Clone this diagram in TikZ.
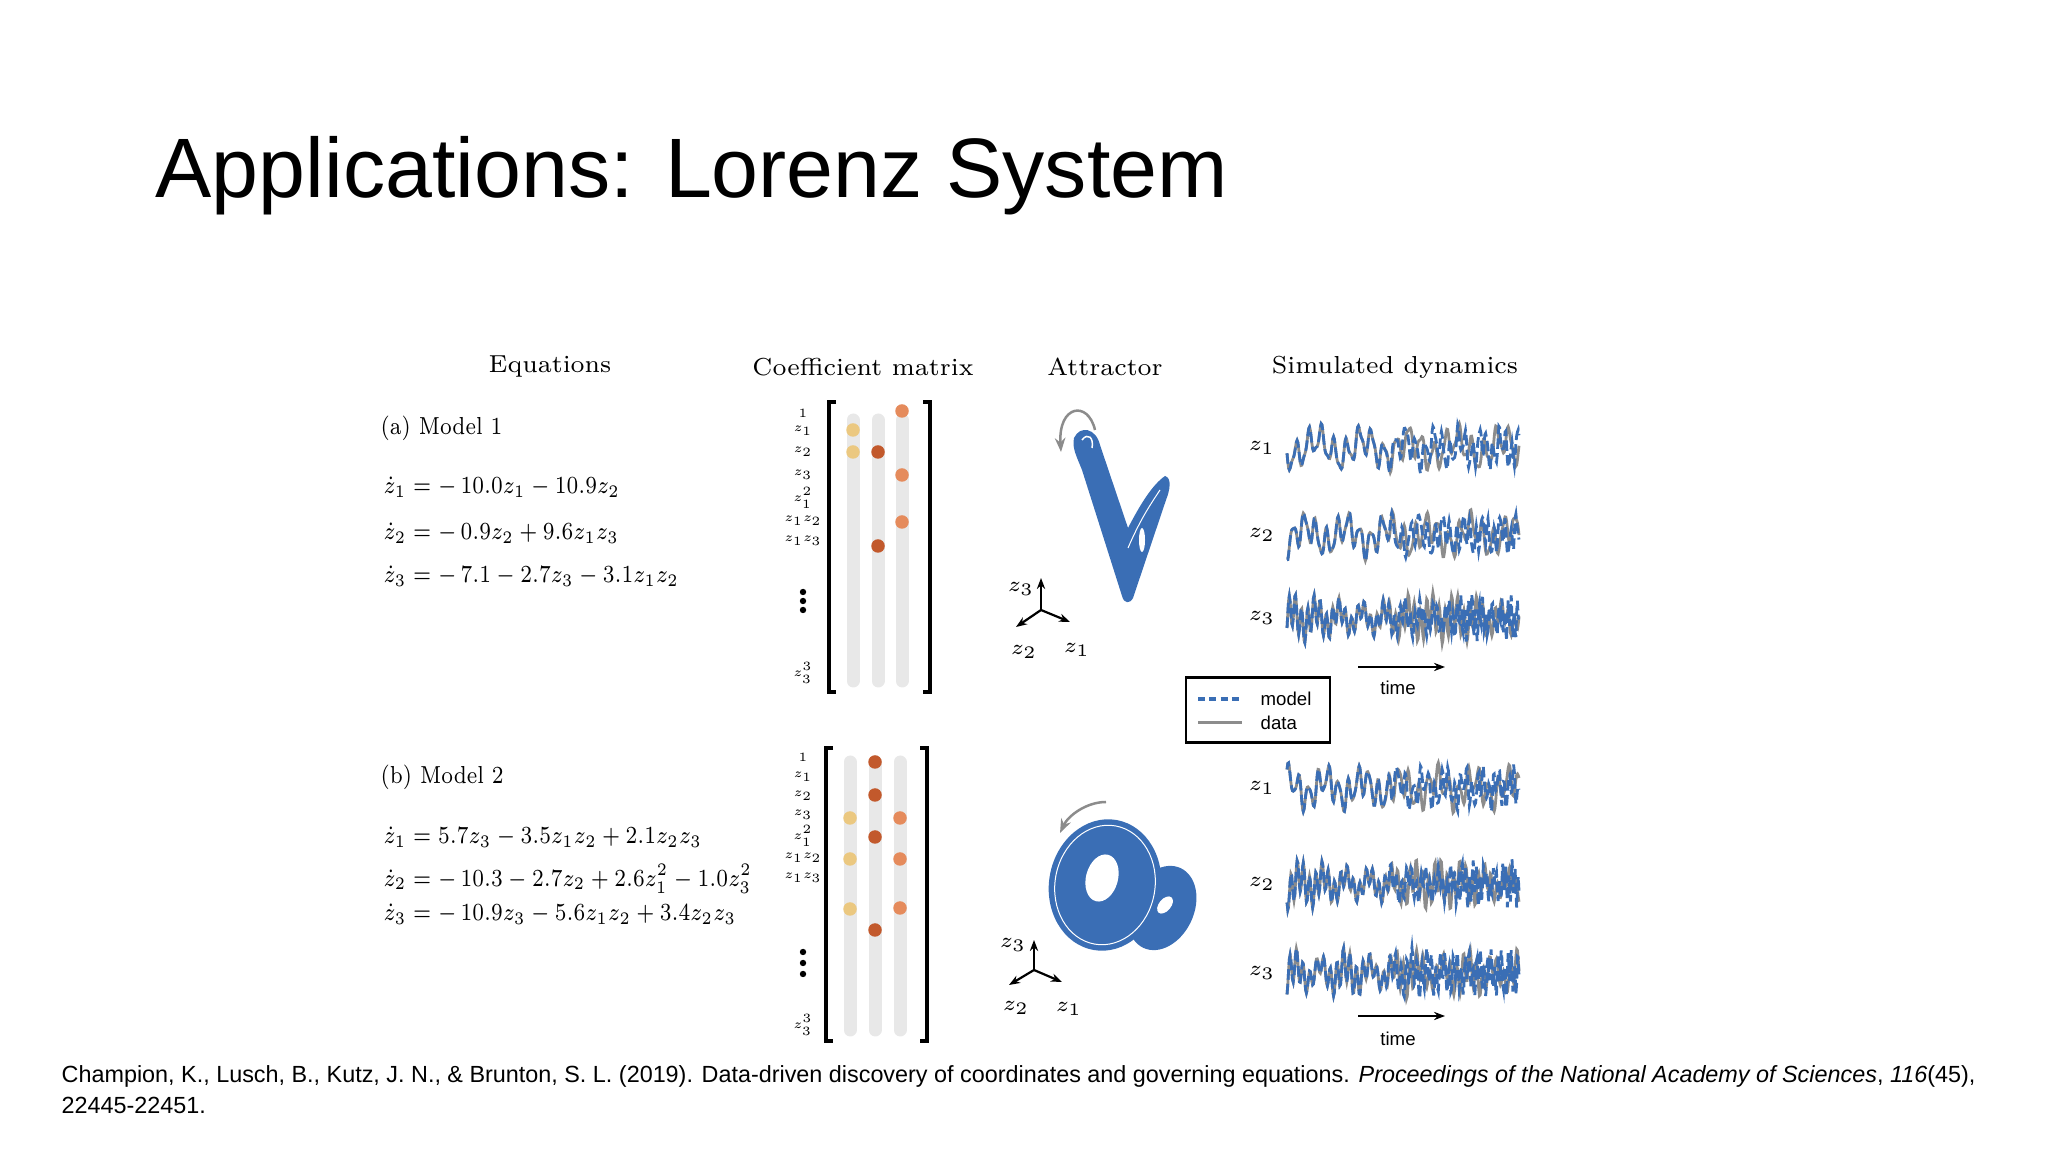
\documentclass[tikz,border=0pt]{standalone}
\usepackage{graphicx}
\usepackage{fontspec}
\newfontfamily\sans{Liberation Sans}
\usetikzlibrary{arrows.meta}
\definecolor{lblue}{HTML}{3A6EB5}
\definecolor{lgrey}{HTML}{8C8C8C}
\definecolor{cyel}{HTML}{EBC880}
\definecolor{cdark}{HTML}{C2592C}
\definecolor{corg}{HTML}{E58B5C}
\definecolor{bar}{HTML}{E8E8E8}
\newcommand{\eqs}[1]{\scalebox{0.84}[1]{#1}}
\newcommand{\rls}[1]{\scalebox{0.72}{$#1$}}
\tikzset{
  hdr/.style={font=\fontsize{7pt}{9pt}\selectfont},
  eq/.style={font=\fontsize{7pt}{8pt}\selectfont,anchor=west,inner sep=0},
  rowl/.style={font=\fontsize{5pt}{6pt}\selectfont,inner sep=0},
  colbar/.style={line width=1.3mm,color=bar,line cap=round},
  brk/.style={line width=0.35mm},
  cdot/.style={circle,inner sep=0,minimum size=1.35mm},
  sig/.style={line width=0.28mm},
  axl/.style={font=\fontsize{6.5pt}{8pt}\selectfont,inner sep=0},
  axar/.style={-{Stealth[length=1.1mm]},line width=0.22mm},
  declare function={sn(\a)=sin(360*(\a-floor(\a)));},
}
\begin{document}
\begin{tikzpicture}[x=0.1mm,y=-0.1mm]
\useasboundingbox (0,0) rectangle (2048,1152);
\node[anchor=base west,inner sep=0,font=\sans\fontsize{24pt}{30pt}\selectfont] (title) at (155,198) {Applications: Lorenz System};
% headers
\node[hdr] (h1) at (550,367) {Equations};
\node[hdr] (h2) at (863,367) {Coefficient matrix};
\node[hdr] (h3) at (1105,367) {Attractor};
\node[hdr] (h4) at (1395,367) {Simulated dynamics};
% model a
\node[eq] (ma) at (380,428) {\eqs{(a) Model 1}};
\node[eq] (ea1) at (383,487) {\eqs{$\dot z_1 = -\,10.0z_1 - 10.9z_2$}};
\node[eq] (ea2) at (383,533) {\eqs{$\dot z_2 = -\,0.9z_2 + 9.6z_1z_3$}};
\node[eq] (ea3) at (383,576) {\eqs{$\dot z_3 = -\,7.1 - 2.7z_3 - 3.1z_1z_2$}};
\node[eq] (mb) at (380,777) {\eqs{(b) Model 2}};
\node[eq] (eb1) at (383,837) {\eqs{$\dot z_1 = 5.7z_3 - 3.5z_1z_2 + 2.1z_2z_3$}};
\node[eq] (eb2) at (383,879) {\eqs{$\dot z_2 = -\,10.3 - 2.7z_2 + 2.6z_1^2 - 1.0z_3^2$}};
\node[eq] (eb3) at (383,914) {\eqs{$\dot z_3 = -\,10.9z_3 - 5.6z_1z_2 + 3.4z_2z_3$}};
% matrix a
\foreach \x in {853,878,902} \draw[colbar] (\x,420) -- (\x,681);
\draw[brk] (836,402) -- (829,402) -- (829,692) -- (836,692);
\draw[brk] (923,402) -- (930,402) -- (930,692) -- (923,692);
\foreach \t/\y [count=\i] in {1/413,z_1/431,z_2/452,z_3/475,z_1^2/498,z_1z_2/521,z_1z_3/541,z_3^3/673}
  \node[rowl] (ra\i) at (803,\y) {\rls{\t}};
\foreach \y in {592,601,610} \fill (803,\y) circle (3.2);
\node[cdot,fill=cyel] (da1) at (853,430) {};
\node[cdot,fill=cyel] (da2) at (853,452) {};
\node[cdot,fill=cdark] (da3) at (878,452) {};
\node[cdot,fill=cdark] (da4) at (878,546) {};
\node[cdot,fill=corg] (da5) at (902,411) {};
\node[cdot,fill=corg] (da6) at (902,475) {};
\node[cdot,fill=corg] (da7) at (902,522) {};
% matrix b
\foreach \x in {850,875,900} \draw[colbar] (\x,762) -- (\x,1030);
\draw[brk] (833,748) -- (826,748) -- (826,1041) -- (833,1041);
\draw[brk] (920,748) -- (927,748) -- (927,1041) -- (920,1041);
\foreach \t/\y [count=\i] in {1/757,z_1/777,z_2/796,z_3/815,z_1^2/836,z_1z_2/858,z_1z_3/878,z_3^3/1025}
  \node[rowl] (rb\i) at (803,\y) {\rls{\t}};
\foreach \y in {952,963,974} \fill (803,\y) circle (3.2);
\node[cdot,fill=cyel] (db1) at (850,818) {};
\node[cdot,fill=cyel] (db2) at (850,859) {};
\node[cdot,fill=cyel] (db3) at (850,909) {};
\node[cdot,fill=cdark] (db4) at (875,762) {};
\node[cdot,fill=cdark] (db5) at (875,795) {};
\node[cdot,fill=cdark] (db6) at (875,837) {};
\node[cdot,fill=cdark] (db7) at (875,930) {};
\node[cdot,fill=corg] (db8) at (900,818) {};
\node[cdot,fill=corg] (db9) at (900,859) {};
\node[cdot,fill=corg] (db10) at (900,908) {};
% attractor a
\fill[lblue] (1074,438) .. controls (1080,425) and (1096,428) .. (1100,445)
  -- (1128,528) .. controls (1140,505) and (1152,485) .. (1165,476)
  .. controls (1172,478) and (1170,490) .. (1166,500)
  -- (1133,598) .. controls (1130,604) and (1124,604) .. (1122,596)
  -- (1082,470) .. controls (1076,455) and (1072,448) .. (1074,438) -- cycle;
\draw[white,line width=0.15mm] (1082,440) .. controls (1088,432) and (1094,438) .. (1092,448);
\fill[white] (1142,540) ellipse (3 and 12);
\draw[white,line width=0.1mm] (1128,548) .. controls (1140,520) and (1150,505) .. (1160,490);
\draw[lgrey,line width=0.25mm,-{Stealth[length=1.4mm]}] (1095,430) .. controls (1088,400) and (1058,405) .. (1061,452);
\coordinate (oa) at (1041,610);
\draw[axar] (oa) -- (1041,578);
\draw[axar] (oa) -- (1016,627);
\draw[axar] (oa) -- (1070,622);
\node[axl] (za3) at (1021,589) {$z_3$};
\node[axl] (za2) at (1024,652) {$z_2$};
\node[axl] (za1) at (1077,650) {$z_1$};
% attractor b
\fill[lblue,rotate around={-25:(1162,908)}] (1162,908) ellipse (32 and 44);
\fill[lblue,rotate around={-10:(1105,885)}] (1105,885) ellipse (56 and 66);
\draw[white,line width=0.1mm,rotate around={-10:(1105,885)}] (1105,885) ellipse (50 and 60);
\fill[white,rotate around={-15:(1102,878)}] (1102,878) ellipse (16 and 24);
\fill[white,rotate around={-40:(1165,905)}] (1165,905) ellipse (6 and 10);
\draw[lgrey,line width=0.25mm,-{Stealth[length=1.4mm]}] (1106,802) .. controls (1086,802) and (1068,816) .. (1060,833);
\coordinate (ob) at (1034,970);
\draw[axar] (ob) -- (1034,940);
\draw[axar] (ob) -- (1009,985);
\draw[axar] (ob) -- (1062,982);
\node[axl] (zb3) at (1013,945) {$z_3$};
\node[axl] (zb2) at (1016,1008) {$z_2$};
\node[axl] (zb1) at (1069,1009) {$z_1$};
% dynamics
\foreach \lab/\yy/\ph/\fr [count=\i] in {z_1/448/0/0.8,z_2/535/0.2/0.9,z_3/618/0.4/1.6,z_1/788/0.6/1.0,z_2/884/0.1/1.6,z_3/973/0.3/1.5}{
  \node[axl] (dl\i) at (1262,\yy) {$\lab$};
  \draw[lgrey,sig] plot[domain=0:232,samples=300,variable=\t]
    ({1287+\t},{\yy + 13*sn(\fr*\t/10+\ph) + 9*sn(\fr*\t/37+\ph+0.1) + 4*sn(\t/6+\ph)});
  \draw[lblue,sig,dash pattern=on 3pt off 1.2pt] plot[domain=0:232,samples=300,variable=\t]
    ({1287+\t},{\yy + 13*sn(\fr*(\t+(0.0632*max(0,\t-90))^2)/10+\ph) + 9*sn(\fr*(\t+(0.0775*max(0,\t-90))^2)/37+\ph+0.1) + 4*sn((\t+(0.0548*max(0,\t-90))^2)/6+\ph)});
}
\draw[axar] (1358,667) -- (1445,667);
\node[font=\sans\fontsize{5.3pt}{6pt}\selectfont] (ta) at (1398,688) {time};
\draw[axar] (1358,1016) -- (1445,1016);
\node[font=\sans\fontsize{5.3pt}{6pt}\selectfont] (tb) at (1398,1039) {time};
% legend
\node[draw,line width=0.25mm,minimum width=14.4mm,minimum height=6.5mm] (leg) at (1258,710) {};
\draw[lblue,line width=0.35mm,dash pattern=on 2pt off 1.2pt] (1198,699) -- (1242,699);
\draw[lgrey,line width=0.3mm] (1198,723) -- (1242,723);
\node[anchor=west,inner sep=0,font=\sans\fontsize{5.3pt}{6pt}\selectfont] (lm) at (1260,699) {model};
\node[anchor=west,inner sep=0,font=\sans\fontsize{5.3pt}{6pt}\selectfont] (ld) at (1260,723) {data};
% citation
\node[anchor=north west,inner sep=0,align=left,font=\sans\fontsize{6.65pt}{8.7pt}\selectfont] (cit) at (61,1065) {Champion, K., Lusch, B., Kutz, J. N., \& Brunton, S. L. (2019). Data-driven discovery of coordinates and governing equations. \textit{Proceedings of the National Academy of Sciences}, \textit{116}(45),\\22445-22451.};
\end{tikzpicture}
\end{document}
